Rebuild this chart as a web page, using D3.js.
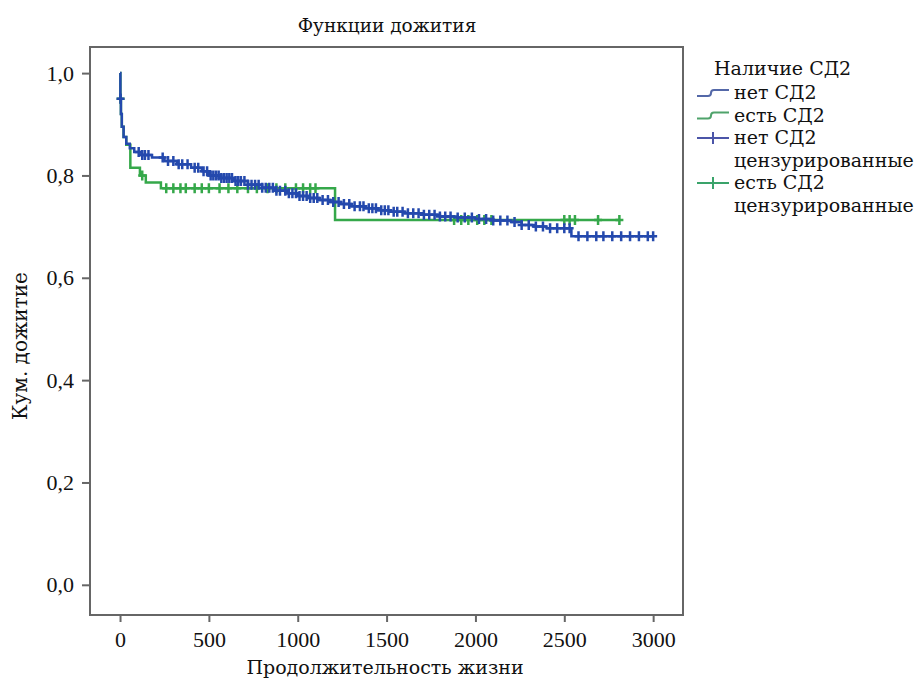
<!DOCTYPE html>
<html>
<head>
<meta charset="utf-8">
<script src="https://cdn.jsdelivr.net/npm/d3@7/dist/d3.min.js"></script>
<style>
  body { margin: 0; background: #fff; }
</style>
</head>
<body>
<svg id="chart"></svg>
<script>
// step points of survival curves (time, cumulative survival)
var blueTime = [0, 2, 5, 10, 20, 35, 55, 80, 120, 180, 250, 320, 400, 460, 500, 560, 640, 720, 800, 870, 940, 1000, 1060, 1120, 1180, 1240, 1300, 1380, 1450, 1520, 1600, 1700, 1800, 1900, 2000, 2100, 2200, 2260, 2330, 2400, 2540, 3000];
var blueSurv = [1.0, 0.95, 0.92, 0.895, 0.875, 0.862, 0.853, 0.846, 0.84, 0.835, 0.828, 0.822, 0.815, 0.808, 0.80, 0.795, 0.789, 0.782, 0.776, 0.77, 0.765, 0.76, 0.756, 0.752, 0.748, 0.744, 0.74, 0.736, 0.732, 0.729, 0.726, 0.723, 0.72, 0.718, 0.715, 0.712, 0.709, 0.703, 0.70, 0.697, 0.681, 0.681];

var greenTime = [0, 2, 5, 10, 20, 35, 58, 112, 145, 230, 1210, 2815];
var greenSurv = [1.0, 0.95, 0.92, 0.895, 0.875, 0.86, 0.815, 0.80, 0.786, 0.775, 0.713, 0.713];

// censored observations (times)
var blueCensor = [3, 105, 125, 140, 160, 240, 270, 300, 330, 350, 380, 420, 440, 470, 490, 510, 525, 540, 555, 570, 585, 600, 615, 630, 650, 665, 680, 700, 720, 740, 760, 780, 800, 820, 840, 860, 880, 900, 930, 950, 970, 990, 1010, 1030, 1050, 1070, 1090, 1110, 1140, 1170, 1200, 1230, 1260, 1290, 1320, 1350, 1370, 1400, 1420, 1440, 1470, 1490, 1510, 1540, 1560, 1590, 1620, 1650, 1680, 1710, 1740, 1770, 1800, 1830, 1860, 1900, 1940, 1980, 2020, 2060, 2100, 2140, 2180, 2220, 2260, 2300, 2340, 2380, 2420, 2460, 2500, 2530, 2580, 2630, 2680, 2720, 2770, 2820, 2870, 2920, 2970, 3000];
var greenCensor = [3, 125, 260, 300, 340, 370, 420, 460, 500, 560, 610, 660, 720, 770, 830, 880, 930, 990, 1030, 1070, 1100, 1880, 1920, 1960, 2010, 2050, 2090, 2500, 2530, 2560, 2690, 2810];

var xTicks = [0, 500, 1000, 1500, 2000, 2500, 3000];
var yTicks = [0, 0.2, 0.4, 0.6, 0.8, 1.0];

var legendTitle = 'Наличие СД2';
var legendItems = [
  {label: ['нет СД2'], color: '#5468a8', kind: 'step'},
  {label: ['есть СД2'], color: '#4fa36b', kind: 'step'},
  {label: ['нет СД2', 'цензурированные'], color: '#4b55a8', kind: 'cross'},
  {label: ['есть СД2', 'цензурированные'], color: '#3aa36a', kind: 'cross'}
];

var blueColor = '#2449ad';
var greenColor = '#35a84a';
// Liberation Serif here has no cyrillic, so words use DejaVu Serif
var NUM_FONT = 'Liberation Serif, DejaVu Serif, serif';
var CYR_FONT = 'DejaVu Serif, serif';

var width = 917;
var height = 683;

var svg = d3.select('#chart')
  .attr('width', width)
  .attr('height', height);

var plotLeft = 90, plotTop = 47, plotRight = 683, plotBottom = 615;

var x = d3.scaleLinear()
  .domain([-169, 3168])
  .range([plotLeft, plotRight]);

var y = d3.scaleLinear()
  .domain([-0.059, 1.051])
  .range([plotBottom, plotTop]);

function label(sel, size, font) {
  return sel.attr('font-family', font || CYR_FONT).attr('font-size', size).attr('fill', '#111');
}

// title
label(svg.append('text'), 18.5)
  .attr('x', 387)
  .attr('y', 32)
  .attr('text-anchor', 'middle')
  .text('Функции дожития');

// frame
svg.append('rect')
  .attr('x', plotLeft)
  .attr('y', plotTop)
  .attr('width', plotRight - plotLeft)
  .attr('height', plotBottom - plotTop)
  .attr('fill', 'none')
  .attr('stroke', '#666')
  .attr('stroke-width', 2);

// axes
var xAxis = svg.append('g')
  .attr('transform', 'translate(0,' + plotBottom + ')')
  .call(d3.axisBottom(x).tickValues(xTicks).tickSize(7).tickPadding(9).tickFormat(d3.format('d')));

var yAxis = svg.append('g')
  .attr('transform', 'translate(' + plotLeft + ',0)')
  .call(d3.axisLeft(y).tickValues(yTicks).tickSize(8).tickPadding(8)
    .tickFormat(function(d) { return d3.format('.1f')(d).replace('.', ','); }));

[xAxis, yAxis].forEach(function(g) {
  g.select('.domain').remove();
  g.selectAll('.tick line').attr('stroke', '#666').attr('stroke-width', 2);
  g.attr('font-family', NUM_FONT).attr('font-size', 22);
  label(g.selectAll('.tick text'), 22, NUM_FONT);
});

label(svg.append('text'), 19)
  .attr('x', 385)
  .attr('y', 674)
  .attr('text-anchor', 'middle')
  .text('Продолжительность жизни');

label(svg.append('text'), 20)
  .attr('transform', 'translate(27,346) rotate(-90)')
  .attr('text-anchor', 'middle')
  .text('Кум. дожитие');

// curves
var line = d3.line()
  .curve(d3.curveStepAfter)
  .x(function(d) { return x(d[0]); })
  .y(function(d) { return y(d[1]); });

function stepValue(times, surv, t) {
  var i = d3.bisectRight(times, t) - 1;
  return surv[Math.max(0, i)];
}

function drawCurve(times, surv, censor, color) {
  var pts = times.map(function(t, i) { return [t, surv[i]]; });
  svg.append('path')
    .datum(pts)
    .attr('d', line)
    .attr('fill', 'none')
    .attr('stroke', color)
    .attr('stroke-width', 2.5);

  svg.append('g')
    .selectAll('path')
    .data(censor)
    .enter().append('path')
      .attr('d', function(t) {
        var cx = x(t), cy = y(stepValue(times, surv, t));
        return 'M' + (cx - 4) + ',' + cy + 'H' + (cx + 4) + 'M' + cx + ',' + (cy - 5) + 'V' + (cy + 5);
      })
      .attr('stroke', color)
      .attr('stroke-width', 2.5)
      .attr('fill', 'none');
}

drawCurve(greenTime, greenSurv, greenCensor, greenColor);
drawCurve(blueTime, blueSurv, blueCensor, blueColor);

// legend
var legend = svg.append('g');
label(legend.append('text'), 19)
  .attr('x', 714)
  .attr('y', 75)
  .text(legendTitle);

var rowY = 99;
legendItems.forEach(function(item) {
  var cy = rowY - 6;
  if (item.kind == 'step') {
    legend.append('path')
      .attr('d', 'M697,' + (cy + 3) + 'H708Q711,' + (cy + 3) + ' 711,' + cy + 'Q711,' + (cy - 3) + ' 714,' + (cy - 3) + 'H729')
      .attr('stroke', item.color)
      .attr('stroke-width', 2)
      .attr('fill', 'none');
  } else {
    legend.append('path')
      .attr('d', 'M697,' + cy + 'H729M713,' + (cy - 6) + 'V' + (cy + 6))
      .attr('stroke', item.color)
      .attr('stroke-width', 2)
      .attr('fill', 'none');
  }
  item.label.forEach(function(s, j) {
    label(legend.append('text'), 19)
      .attr('x', 734)
      .attr('y', rowY + j * 22.5)
      .text(s);
  });
  rowY += 22.5 * item.label.length;
});
</script>
</body>
</html>
